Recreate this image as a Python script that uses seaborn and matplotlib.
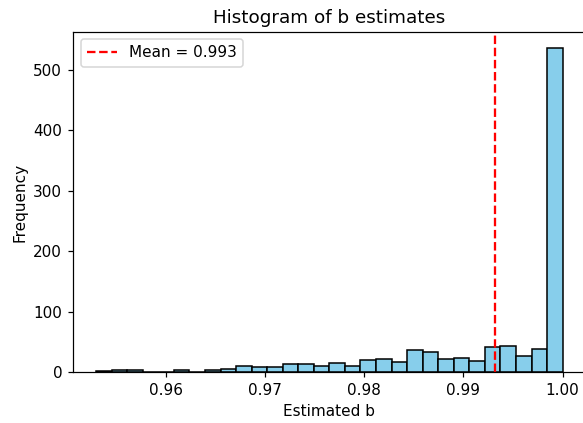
import numpy as np
import pandas as pd
import matplotlib
matplotlib.use("Agg")
import matplotlib.pyplot as plt
import seaborn as sns

# histogram of b estimates, counts (30 bins over 0.953-1.0)
bin_lo = 0.953
bin_hi = 1.0
n_bins = 30
counts = [2, 4, 4, 1, 1, 3, 1, 3, 6, 10,
          8, 8, 14, 13, 11, 15, 10, 20, 22, 17,
          36, 34, 22, 23, 18, 41, 43, 27, 38, 536]
mean_b = 0.9932

edges = np.linspace(bin_lo, bin_hi, n_bins + 1)
centers = (edges[:-1] + edges[1:]) / 2
df = pd.DataFrame({"b": centers, "count": counts})

dpi = 110
fig = plt.figure(figsize=(583 / dpi, 423 / dpi), dpi=dpi)
ax = fig.add_axes([0.125, 0.12, 0.88, 0.805])

sns.histplot(data=df, x="b", weights="count", bins=n_bins, binrange=(bin_lo, bin_hi),
             color="skyblue", edgecolor="black", linewidth=1.0, alpha=1.0, ax=ax)
ax.axvline(mean_b, color="red", linestyle="--", linewidth=1.5,
           label=f"Mean = {mean_b:.3f}")

ax.set_title("Histogram of b estimates")
ax.set_xlabel("Estimated b")
ax.set_ylabel("Frequency")
ax.set_xticks([0.96, 0.97, 0.98, 0.99, 1.00])
ax.set_xticklabels(["0.96", "0.97", "0.98", "0.99", "1.00"])
ax.legend(loc="upper left")

fig.savefig("out.png", dpi=dpi)
plt.close(fig)
